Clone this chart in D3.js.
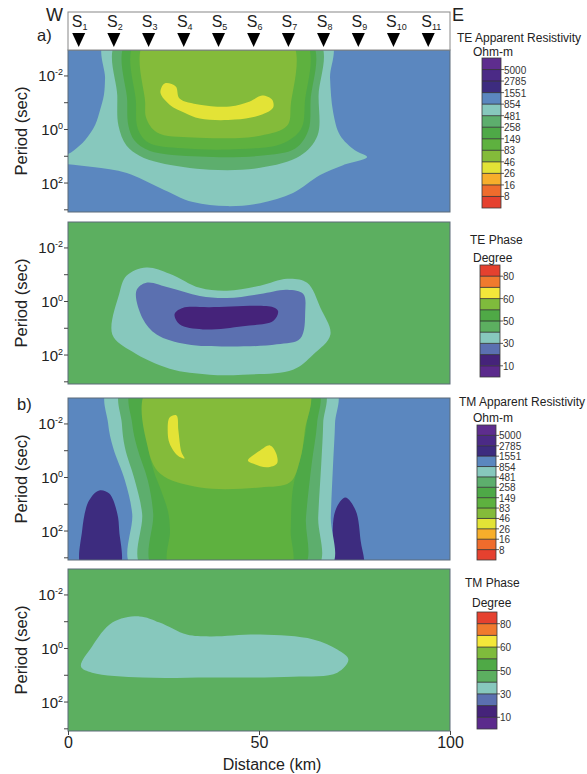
<!DOCTYPE html>
<html><head><meta charset="utf-8">
<script src="https://cdn.jsdelivr.net/npm/d3@7"></script>
<style>
body{margin:0;background:#fff}
svg{display:block}
text{font-family:"Liberation Sans",Arial,sans-serif;fill:#222}
</style>
</head><body>
<svg id="c" width="587" height="774"></svg>
<script>
// ---------------- data ----------------
const stations = [2.8, 12.0, 21.1, 30.3, 39.4, 48.6, 57.7, 66.9, 76.0, 85.2, 94.3];
const stationNames = ["1","2","3","4","5","6","7","8","9","10","11"];
const periodTicks = [-2, -1, 0, 1, 2, 3];          // log10 period (s)
const periodLabels = [-2, 0, 2];
const distanceTicks = [0, 50, 100];

const rhoThresholds = [8, 16, 26, 46, 83, 149, 258, 481, 854, 1551, 2785, 5000];
const rhoColors = ["#e5412f","#ef6c2c","#f7ae2b","#e3e336","#84bb3a","#5eb13f","#4ea947",
                   "#5dae6d","#87c8bd","#5b87bf","#3d2c7f","#4b2a86","#5e2d8e"];
const phaseThresholds = [10, 20, 30, 40, 50, 55, 60, 70, 80];
const phaseTickValues = [10, 30, 50, 60, 80];
const phaseColors = ["#5b2a8c","#45237a","#5b70b0","#87c8bd","#5caf60","#4fa946","#7fbb3c",
                     "#f4e73a","#f07a2e","#e5412f"];

// contour regions: [distance km, log10 period]
const teRhoBackground = 1000;
const teRhoTeal = [[9.7,-3.3],[9.7,-1.9],[9.4,-1.27],[8.4,-0.71],[7.1,-0.15],[4.5,0.41],[1.6,0.79],[-0.5,0.97],[-3,1.1],[-3,1.25],[-0.5,1.31],[6.5,1.42],[15.4,1.64],[24.1,2.2],[32.7,2.73],[41.6,2.88],[50.3,2.77],[58.9,2.39],[66.0,1.72],[72.0,1.35],[78.3,1.05],[75.1,0.79],[71.2,0.23],[69.4,-0.63],[68.6,-1.9],[68.6,-3.3]];
const teRhoGreenTeal = [[12.9,-3.3],[12.9,-1.25],[13.2,-0.13],[15.3,0.62],[18.7,1.0],[24.0,1.26],[37.1,1.52],[50.3,1.45],[60.8,1.0],[65.3,0.25],[65.6,-1.25],[65.6,-3.3]];
const teRhoGreen = [[15.5,-3.3],[15.5,-1.06],[15.8,-0.13],[17.4,0.43],[21.3,0.81],[34.5,1.03],[50.3,1.0],[59.5,0.73],[62.9,0.06],[63.5,-1.06],[63.5,-3.3]];
const teRhoGreen2 = [[17.8,-3.3],[17.8,-1],[18.3,0],[21,0.5],[30,0.72],[45,0.75],[56,0.55],[61,0],[62,-1],[62,-3.3]];
const teRhoYellowGreen = [[20.2,-3.3],[20.2,-1],[20.5,-0.4],[23.3,0.13],[32.7,0.32],[50.3,0.25],[57.4,-0.13],[58.3,-0.88],[58.3,-3.3]];
const teRhoYellow = [[25.3,-1.70],[28.2,-1.59],[29.2,-1.14],[34.5,-0.91],[42.4,-0.84],[47.6,-1.03],[50.8,-1.25],[53.4,-1.10],[53.7,-0.80],[50.8,-0.54],[43.7,-0.35],[34.5,-0.39],[30.5,-0.61],[26.6,-0.91],[24.2,-1.36]];

const tePhaseBackground = 45;
const tePhaseTeal = [[11.6,1.25],[13.4,-0.26],[15.3,-0.94],[20.5,-1.25],[26.6,-1.02],[34.5,-0.49],[41.6,-0.38],[50.3,-0.57],[57.4,-0.83],[62.6,-0.68],[66.1,0.26],[68.7,1.25],[64.2,2.0],[58.9,2.57],[45.8,2.75],[37.1,2.75],[26.6,2.53],[16.8,1.89]];
const tePhaseBlue = [[17.9,-0.38],[20.5,-0.68],[26.6,-0.49],[34.5,-0.19],[41.6,-0.11],[50.3,-0.26],[57.4,-0.42],[61.6,-0.26],[62.1,0.38],[60.8,1.40],[54.7,1.62],[41.6,1.70],[31.1,1.62],[23.2,1.25],[19.5,0.64]];
const tePhasePurple = [[27.9,0.49],[30.0,0.26],[37.1,0.23],[53.7,0.23],[55.0,0.38],[53.7,0.75],[45.8,0.94],[35.3,1.06],[29.2,0.87]];

const tmRhoBackground = 1000;
const tmRhoPurpleW = [[8.2,0.50],[10.8,0.62],[12.9,1.36],[13.4,2.0],[13.4,3.4],[3.7,3.4],[3.7,2.0],[5.5,0.88]];
const tmRhoPurpleE = [[72.6,0.77],[75.3,1.25],[76.6,2.37],[77.1,3.4],[69.2,3.4],[69.2,2.64],[70.0,1.25]];
const tmRhoTeal = [[10.5,-3.3],[10.5,-2],[11.8,-1.1],[14.9,0.13],[16.8,1.36],[16.8,3.4],[68.6,3.4],[68.8,1.5],[69.4,-0.5],[69.9,-2],[69.9,-3.3]];
const tmRhoGreenTeal = [[14.1,-3.3],[14.1,-2],[14.9,-1.1],[17.5,0.13],[19.4,1.36],[19.4,3.4],[65.2,3.4],[65.5,1.5],[66.3,-0.5],[66.8,-2],[66.8,-3.3]];
const tmRhoGreen = [[16.8,-3.3],[16.8,-2],[18.1,-1.1],[20.9,0.13],[22.3,1.36],[22.3,3.4],[61.5,3.4],[62.3,1.5],[63.8,-0.5],[65.2,-2],[65.2,-3.3]];
const tmRhoGreen2 = [[20.9,-3.3],[20.9,-1.2],[22.5,-0.2],[24.1,0.4],[26.2,1.3],[26.7,2.0],[26.7,3.4],[58.1,3.4],[58.3,2.0],[58.9,0.4],[61.0,-0.8],[62.5,-2],[62.8,-3.3]];
const tmRhoYellowGreen = [[20.9,-3.3],[20.9,-1.1],[24.1,-0.13],[34.6,0.39],[50.3,0.39],[58.1,0.2],[60.7,-0.62],[62.0,-1.74],[62.8,-3.3]];
const tmRhoYellowW = [[26.6,-2.22],[28.4,-2.30],[28.9,-1.74],[29.7,-0.92],[30.5,-0.69],[28.7,-0.80],[26.6,-1.25],[26.1,-1.74]];
const tmRhoYellowE = [[47.1,-0.62],[50.3,-0.99],[52.9,-1.18],[54.5,-0.88],[54.7,-0.50],[52.1,-0.36],[48.4,-0.50]];

const tmPhaseBackground = 45;
const tmPhaseTeal = [[3.4,0.69],[6.3,-0.06],[11.6,-0.95],[18.7,-1.18],[24.0,-0.95],[31.1,-0.50],[37.1,-0.43],[50.3,-0.50],[64.2,-0.32],[70.5,0.06],[73.4,0.43],[70.5,0.92],[58.9,1.07],[37.1,1.10],[19.5,1.10],[6.3,0.92]];

// ---------------- drawing ----------------
const svg = d3.select("#c");
const rhoColor = d3.scaleThreshold().domain(rhoThresholds).range(rhoColors);
const phaseColor = d3.scaleThreshold().domain(phaseThresholds).range(phaseColors);
const x = d3.scaleLinear().domain([0, 100]).range([68, 450]);
const PH = 162;

const panels = [
  {top: 50, bg: teRhoBackground, color: rhoColor, regions: [
    {v: 600, p: teRhoTeal}, {v: 350, p: teRhoGreenTeal}, {v: 200, p: teRhoGreen},
    {v: 120, p: teRhoGreen2}, {v: 60, p: teRhoYellowGreen}, {v: 35, p: teRhoYellow}]},
  {top: 222, bg: tePhaseBackground, color: phaseColor, regions: [
    {v: 35, p: tePhaseTeal}, {v: 25, p: tePhaseBlue}, {v: 15, p: tePhasePurple}]},
  {top: 398, bg: tmRhoBackground, color: rhoColor, regions: [
    {v: 2000, p: tmRhoPurpleW}, {v: 2000, p: tmRhoPurpleE},
    {v: 600, p: tmRhoTeal}, {v: 350, p: tmRhoGreenTeal}, {v: 200, p: tmRhoGreen},
    {v: 120, p: tmRhoGreen2}, {v: 60, p: tmRhoYellowGreen},
    {v: 35, p: tmRhoYellowW}, {v: 35, p: tmRhoYellowE}]},
  {top: 569, bg: tmPhaseBackground, color: phaseColor, regions: [
    {v: 35, p: tmPhaseTeal}]}
];

const defs = svg.append("defs");
panels.forEach((P, i) => {
  const y = d3.scaleLinear().domain([-2.95, 3.1]).range([P.top, P.top + PH]);
  const line = d3.line().x(d => x(d[0])).y(d => y(d[1])).curve(d3.curveCatmullRomClosed.alpha(0.5));
  defs.append("clipPath").attr("id", "clip" + i).append("rect")
    .attr("x", x(0)).attr("y", P.top).attr("width", x(100) - x(0)).attr("height", PH);
  const g = svg.append("g");
  const inner = g.append("g").attr("clip-path", `url(#clip${i})`);
  inner.append("rect").attr("x", x(0)).attr("y", P.top).attr("width", x(100) - x(0)).attr("height", PH)
    .attr("fill", P.color(P.bg));
  inner.selectAll("path").data(P.regions).join("path")
    .attr("d", d => line(d.p)).attr("fill", d => P.color(d.v));
  g.append("rect").attr("x", x(0)).attr("y", P.top).attr("width", x(100) - x(0)).attr("height", PH)
    .attr("fill", "none").attr("stroke", "#5d6b78").attr("stroke-width", 1);
  // y axis ticks
  const ax = g.append("g").attr("transform", `translate(${x(0)},0)`)
    .call(d3.axisLeft(y).tickValues(periodTicks).tickSize(4).tickFormat(""));
  ax.select(".domain").remove();
  ax.selectAll(".tick line").attr("stroke", "#444");
  // y tick labels 10^n
  const lab = g.selectAll("text.yl").data(periodLabels).join("text").attr("class", "yl")
    .attr("x", x(0) - 5).attr("y", d => y(d) + 6).attr("text-anchor", "end").style("font-size", "15px");
  lab.append("tspan").text("10");
  lab.append("tspan").attr("dy", -6).style("font-size", "9px").text(d => d < 0 ? "-" + Math.abs(d) : String(d));
  // axis title
  g.append("text").attr("transform", `translate(27,${P.top + PH / 2}) rotate(-90)`)
    .attr("text-anchor", "middle").style("font-size", "16.5px").text("Period (sec)");
});

// x axis
const xa = svg.append("g").attr("transform", `translate(0,${569 + PH})`)
  .call(d3.axisBottom(x).tickValues(distanceTicks).tickSize(4).tickFormat(d3.format("d")));
xa.select(".domain").remove();
xa.selectAll(".tick line").attr("stroke", "#444");
xa.selectAll(".tick text").style("font-size", "16px").attr("y", 6).attr("dy", "0.7em").style("fill", "#222");
svg.append("text").attr("x", 272).attr("y", 770).attr("text-anchor", "middle")
  .style("font-size", "16px").text("Distance (km)");

// station header
svg.append("rect").attr("x", x(0)).attr("y", 12).attr("width", x(100) - x(0)).attr("height", 38)
  .attr("fill", "#fff").attr("stroke", "#888").attr("stroke-width", 1);
svg.selectAll("path.tri").data(stations).join("path").attr("class", "tri")
  .attr("d", d => `M${x(d) - 6.5},33 L${x(d) + 6.5},33 L${x(d)},47 Z`).attr("fill", "#000");
const sl = svg.selectAll("text.st").data(stations).join("text").attr("class", "st")
  .attr("x", (d, i) => x(d) + (i >= 9 ? 3 : 1)).attr("y", 27).attr("text-anchor", "middle").style("font-size", "16px");
sl.append("tspan").text("S");
sl.append("tspan").attr("dy", 3).style("font-size", "9px").text((d, i) => stationNames[i]);
svg.append("text").attr("x", 46).attr("y", 21).style("font-size", "18px").text("W");
svg.append("text").attr("x", 452).attr("y", 21).style("font-size", "18px").text("E");
svg.append("text").attr("x", 37).attr("y", 41).style("font-size", "16.5px").text("a)");
svg.append("text").attr("x", 17).attr("y", 410).style("font-size", "16.5px").text("b)");

// colorbars
function colorbar(opt) {
  const n = opt.colors.length;
  const cy = d3.scaleLinear().domain([0, n]).range([opt.y1, opt.y0]);
  const g = svg.append("g");
  g.selectAll("rect.seg").data(opt.colors).join("rect").attr("class", "seg")
    .attr("x", opt.x).attr("width", opt.w)
    .attr("y", (d, i) => cy(i + 1)).attr("height", (d, i) => cy(i) - cy(i + 1)).attr("fill", d => d);
  g.selectAll("line.sep").data(d3.range(1, n)).join("line").attr("class", "sep")
    .attr("x1", opt.x).attr("x2", opt.x + opt.w)
    .attr("y1", d => cy(d)).attr("y2", d => cy(d)).attr("stroke", "#2a2a2a").attr("stroke-width", 0.8);
  g.append("rect").attr("x", opt.x).attr("y", opt.y0).attr("width", opt.w).attr("height", opt.y1 - opt.y0)
    .attr("fill", "none").attr("stroke", "#3a3a3a").attr("stroke-width", 0.8);
  const idx = opt.labels.map(v => opt.thresholds.indexOf(v) + 1);
  g.selectAll("line.tk").data(idx).join("line").attr("class", "tk")
    .attr("x1", opt.x + opt.w).attr("x2", opt.x + opt.w + 3)
    .attr("y1", d => cy(d)).attr("y2", d => cy(d)).attr("stroke", "#333").attr("stroke-width", 0.8);
  g.selectAll("text.tl").data(opt.labels).join("text").attr("class", "tl")
    .attr("x", opt.x + opt.w + 3).attr("y", (d, i) => cy(idx[i]) + 4)
    .style("font-size", "10px").style("fill", "#333").text(d => d);
  opt.titles.forEach(t => svg.append("text").attr("x", t[0]).attr("y", t[1])
    .style("font-size", "12px").text(t[2]));
}
colorbar({x: 482, w: 19, y0: 58, y1: 208, colors: rhoColors, thresholds: rhoThresholds, labels: rhoThresholds,
  titles: [[457, 42, "TE Apparent Resistivity"], [473, 56, "Ohm-m"]]});
colorbar({x: 480, w: 20, y0: 265, y1: 377, colors: phaseColors, thresholds: phaseThresholds, labels: phaseTickValues,
  titles: [[470, 244, "TE Phase"], [473, 262, "Degree"]]});
colorbar({x: 477, w: 19, y0: 425, y1: 560, colors: rhoColors, thresholds: rhoThresholds, labels: rhoThresholds,
  titles: [[459, 406, "TM Apparent Resistivity"], [473, 422, "Ohm-m"]]});
colorbar({x: 477, w: 20, y0: 612, y1: 729, colors: phaseColors, thresholds: phaseThresholds, labels: phaseTickValues,
  titles: [[465, 587, "TM Phase"], [472, 607, "Degree"]]});
</script>
</body></html>
